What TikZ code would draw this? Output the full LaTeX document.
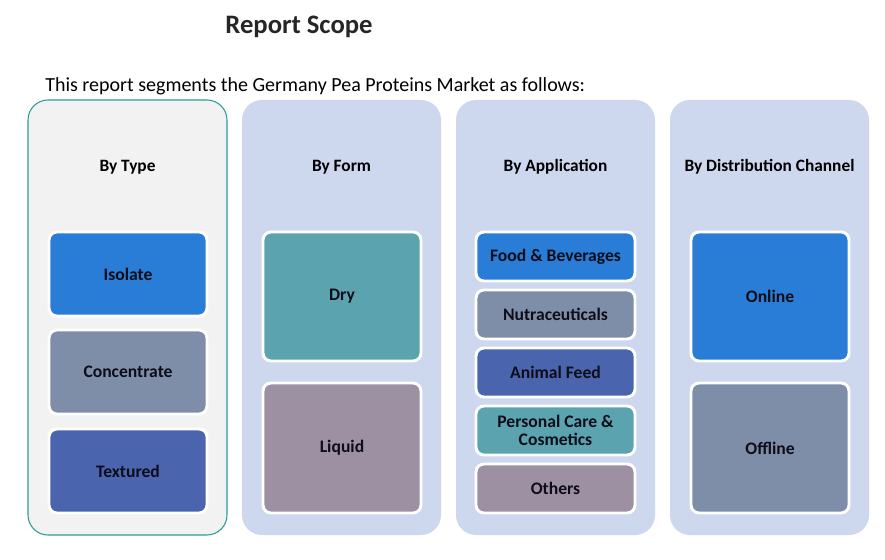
\documentclass[tikz,border=0pt]{standalone}
\usepackage{fontspec}
\setmainfont{Carlito}
\definecolor{pane}{HTML}{CDD7EE}
\definecolor{paneA}{HTML}{F2F2F2}
\definecolor{paneedge}{HTML}{2A9D9A}
\definecolor{cblue}{HTML}{2A7DD6}
\definecolor{cgrey}{HTML}{7F8EA8}
\definecolor{cnavy}{HTML}{4A65AD}
\definecolor{cteal}{HTML}{5BA3AF}
\definecolor{cmauve}{HTML}{9D90A2}
\definecolor{txt}{HTML}{0D0D1A}
\begin{document}
\begin{tikzpicture}[x=0.75pt,y=-0.75pt,
  panel/.style={rounded corners=15pt,fill=pane,draw=none},
  item/.style={rounded corners=6pt,draw=white,line width=2.2pt,text=txt,font=\bfseries\fontsize{13.2}{14}\selectfont,align=center,inner sep=0pt},
  head/.style={font=\bfseries\fontsize{13}{15}\selectfont,text=black}]
\useasboundingbox (0,0) rectangle (885,560);
\fill[white] (0,0) rectangle (885,560);
\node[font=\bfseries\fontsize{20}{22}\selectfont,text={black!85}] (title) at (299,27) {Report Scope};
\node[anchor=west,font=\fontsize{15}{17}\selectfont,text=black,inner sep=0pt] (sub) at (45,86) {This report segments the Germany Pea Proteins Market as follows:};
% panels
\draw[rounded corners=15pt,fill=paneA,draw=paneedge,line width=0.8pt] (28,100) rectangle (227,535);
\fill[panel] (242,100) rectangle (441,535);
\fill[panel] (456,100) rectangle (655,535);
\fill[panel] (670,100) rectangle (869,535);
\node[head] (h1) at (127.5,167) {By Type};
\node[head] (h2) at (341.5,167) {By Form};
\node[head] (h3) at (555.5,167) {By Application};
\node[head] (h4) at (769.5,167) {By Distribution Channel};
% col 1
\draw[item,fill=cblue] (49,232) rectangle node (isolate) {Isolate} (207,316);
\draw[item,fill=cgrey] (49,330) rectangle node (conc) {Concentrate} (207,414);
\draw[item,fill=cnavy] (49,429) rectangle node (text) {Textured} (207,513);
% col 2
\draw[item,fill=cteal] (263,232) rectangle node (dry) {Dry} (421,361);
\draw[item,fill=cmauve] (263,383) rectangle node (liquid) {Liquid} (421,513);
% col 3
\draw[item,fill=cblue] (476,232) rectangle node (food) {Food \& Beverages} (635,281);
\draw[item,fill=cgrey] (476,290) rectangle node (nutra) {Nutraceuticals} (635,339);
\draw[item,fill=cnavy] (476,348) rectangle node (feed) {Animal Feed} (635,397);
\draw[item,fill=cteal] (476,406) rectangle node (care) {Personal Care \&\\Cosmetics} (635,455);
\draw[item,fill=cmauve] (476,464) rectangle node (others) {Others} (635,513);
% col 4
\draw[item,fill=cblue] (691,232) rectangle node (online) {Online} (849,361);
\draw[item,fill=cgrey] (691,383) rectangle node (offline) {Offline} (849,513);
\end{tikzpicture}
\end{document}
